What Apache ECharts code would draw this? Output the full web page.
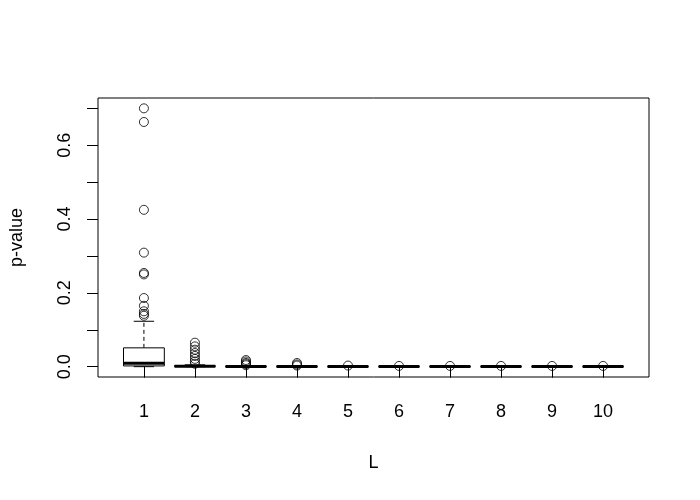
<!DOCTYPE html>
<html>
<head>
<meta charset="utf-8">
<script src="https://cdn.jsdelivr.net/npm/echarts@6/dist/echarts.min.js"></script>
<style>html,body{margin:0;padding:0;background:#fff}#c{width:700px;height:500px}</style>
</head>
<body>
<div id="c"></div>
<script>
// group labels (L)
const groups = [1, 2, 3, 4, 5, 6, 7, 8, 9, 10];
// five-number summaries per group: [lower whisker, Q1, median, Q3, upper whisker]
const lowerWhisker = [0.000, 0.000, 0.000, 0.000, 0.000, 0.000, 0.000, 0.000, 0.000, 0.000];
const q1 =           [0.002, 0.0003, 0.0001, 0.0001, 0.0001, 0.0001, 0.0001, 0.0001, 0.0001, 0.0001];
const median =       [0.009, 0.0012, 0.0004, 0.0003, 0.0002, 0.0002, 0.0002, 0.0002, 0.0002, 0.0002];
const q3 =           [0.051, 0.0025, 0.0010, 0.0006, 0.0004, 0.0004, 0.0004, 0.0004, 0.0004, 0.0004];
const upperWhisker = [0.123, 0.0050, 0.0022, 0.0012, 0.0008, 0.0008, 0.0008, 0.0008, 0.0008, 0.0008];
// outliers per group
const outliers = [
  [0.700, 0.663, 0.425, 0.309, 0.254, 0.250, 0.186, 0.165, 0.150, 0.143, 0.138],
  [0.065, 0.055, 0.046, 0.037, 0.029, 0.021, 0.014, 0.008],
  [0.018, 0.014, 0.010, 0.007, 0.004],
  [0.010, 0.006, 0.003],
  [0.003],
  [0.002],
  [0.002],
  [0.002],
  [0.002],
  [0.002]
];
const yTicks = [0, 0.1, 0.2, 0.3, 0.4, 0.5, 0.6, 0.7];
const yLabels = [0, 0.2, 0.4, 0.6];

const boxData = groups.map((g, i) => [g, lowerWhisker[i], q1[i], median[i], q3[i], upperWhisker[i]]);
const outlierData = [];
groups.forEach((g, i) => outliers[i].forEach(v => outlierData.push([g, v])));

const FONT = '"Liberation Sans", Arial, Helvetica, sans-serif';
const chart = echarts.init(document.getElementById('c'), null, {renderer: 'canvas'});
chart.setOption({
  backgroundColor: '#fff',
  animation: false,
  grid: {left: 98, right: 51, top: 98, bottom: 123, show: true, borderColor: '#000', borderWidth: 1, backgroundColor: 'transparent'},
  xAxis: {
    type: 'value', min: 0.1, max: 10.9,
    name: 'L', nameLocation: 'middle', nameGap: 77,
    nameTextStyle: {fontFamily: FONT, fontSize: 18, color: '#000'},
    axisLine: {show: false},
    splitLine: {show: false},
    axisTick: {show: true, length: 11, lineStyle: {color: '#000', width: 1}, customValues: groups},
    axisLabel: {customValues: groups, margin: 26, fontFamily: FONT, fontSize: 18, color: '#000', formatter: v => String(Math.round(v))}
  },
  yAxis: {
    type: 'value', min: -0.028, max: 0.728,
    name: 'p-value', nameLocation: 'middle', nameGap: 72,
    nameTextStyle: {fontFamily: FONT, fontSize: 18, color: '#000'},
    axisLine: {show: false},
    splitLine: {show: false},
    axisTick: {show: true, length: 11, lineStyle: {color: '#000', width: 1}, customValues: yTicks},
    axisLabel: {customValues: yLabels, rotate: 90, margin: 24, fontFamily: FONT, fontSize: 18, color: '#000', formatter: v => v.toFixed(1)}
  },
  series: [
    {
      type: 'custom',
      data: boxData,
      encode: {x: 0, y: [1, 2, 3, 4, 5]},
      renderItem: function (params, api) {
        const x = api.value(0);
        const half = api.size([0.8, 0])[0] / 2;
        const cx = api.coord([x, 0])[0];
        const yLo = api.coord([x, api.value(1)])[1];
        const yQ1 = api.coord([x, api.value(2)])[1];
        const yMed = api.coord([x, api.value(3)])[1];
        const yQ3 = api.coord([x, api.value(4)])[1];
        const yHi = api.coord([x, api.value(5)])[1];
        const thin = {stroke: '#000', lineWidth: 1, fill: null};
        const dash = {stroke: '#000', lineWidth: 1, lineDash: [4, 3]};
        return {
          type: 'group',
          children: [
            {type: 'line', shape: {x1: cx, y1: yQ3, x2: cx, y2: yHi}, style: dash},
            {type: 'line', shape: {x1: cx, y1: yQ1, x2: cx, y2: yLo}, style: dash},
            {type: 'line', shape: {x1: cx - half / 2, y1: yHi, x2: cx + half / 2, y2: yHi}, style: thin},
            {type: 'line', shape: {x1: cx - half / 2, y1: yLo, x2: cx + half / 2, y2: yLo}, style: thin},
            {type: 'rect', shape: {x: cx - half, y: yQ3, width: 2 * half, height: yQ1 - yQ3}, style: {stroke: '#000', lineWidth: 1, fill: '#fff'}},
            {type: 'line', shape: {x1: cx - half, y1: yMed, x2: cx + half, y2: yMed}, style: {stroke: '#000', lineWidth: 3}}
          ]
        };
      }
    },
    {
      type: 'scatter',
      data: outlierData,
      symbol: 'circle',
      symbolSize: 9,
      itemStyle: {color: 'rgba(0,0,0,0)', borderColor: '#000', borderWidth: 1},
      z: 5
    }
  ]
});
</script>
</body>
</html>
